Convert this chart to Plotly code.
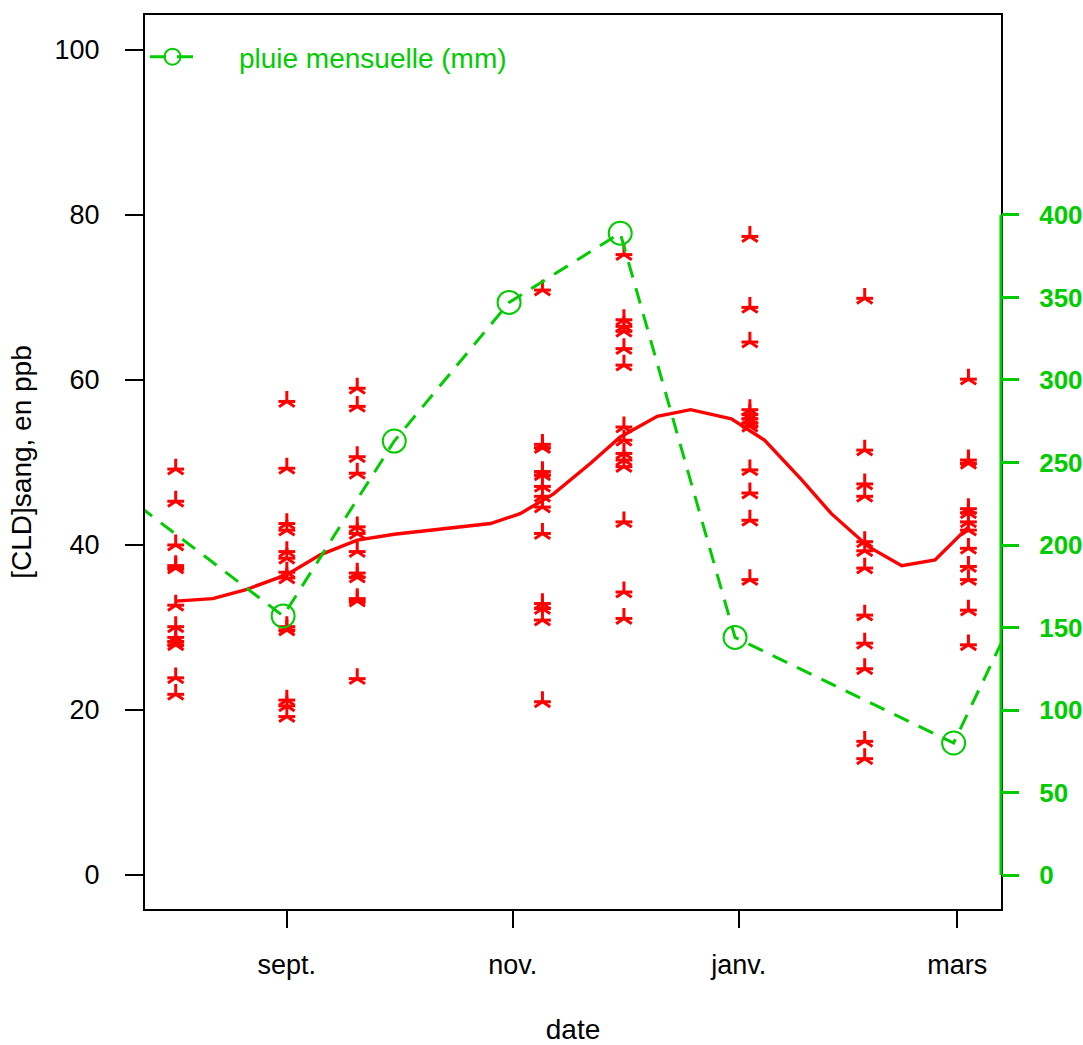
import plotly.graph_objects as go

# ---------------- data ----------------
# blood CLD measurements (ppb) per sampling date
sample_dates = ['2010-08-02', '2010-09-01', '2010-09-20', '2010-11-09',
                '2010-12-01', '2011-01-04', '2011-02-04', '2011-03-04']
cld_aug02 = [49.2, 45.3, 40.0, 37.5, 37.2, 32.7, 30.1, 28.8, 28.3, 27.9, 23.9, 21.9]
cld_sep01 = [57.4, 49.3, 42.6, 41.8, 39.2, 38.4, 36.7, 36.0, 30.1, 29.7, 21.2, 20.5, 19.2]
cld_sep20 = [59.0, 56.8, 50.7, 48.7, 42.2, 41.4, 39.2, 36.6, 36.1, 33.5, 33.2, 23.8]
cld_nov09 = [70.9, 52.2, 51.8, 48.9, 48.5, 47.1, 45.9, 44.6, 41.4, 32.9, 32.3, 30.9, 21.0]
cld_dec01 = [75.2, 67.3, 66.5, 65.9, 63.8, 61.8, 54.3, 52.7, 51.1, 50.3, 49.5, 42.8, 34.3, 31.1]
cld_jan04 = [77.4, 68.8, 64.6, 56.4, 55.8, 55.3, 54.8, 54.4, 49.1, 46.3, 43.0, 35.8]
cld_feb04 = [69.9, 51.5, 47.4, 45.9, 40.4, 39.3, 37.2, 31.5, 28.1, 25.0, 16.2, 14.1]
cld_mar04 = [60.1, 50.3, 49.9, 44.4, 43.9, 42.8, 41.8, 39.6, 37.4, 35.8, 32.1, 27.9]

# smoothed trend (ppb)
smooth_dates = ['2010-08-02', '2010-08-12', '2010-08-21', '2010-09-01', '2010-09-10',
                '2010-09-20', '2010-09-30', '2010-10-26', '2010-11-03', '2010-11-12',
                '2010-11-22', '2010-11-30', '2010-12-10', '2010-12-19', '2010-12-30',
                '2011-01-08', '2011-01-18', '2011-01-26', '2011-02-05', '2011-02-14',
                '2011-02-23', '2011-03-04']
smooth_vals = [33.2, 33.5, 34.6, 36.4, 38.8, 40.6, 41.3, 42.6, 43.8, 46.2, 49.9,
               53.1, 55.6, 56.4, 55.3, 52.7, 47.9, 43.8, 39.8, 37.5, 38.2, 42.2]

# monthly rainfall (mm)
rain_dates = ['2010-06-30', '2010-08-31', '2010-09-30', '2010-10-31',
              '2010-11-30', '2010-12-31', '2011-02-28', '2011-03-31']
rain_vals = [263, 157, 263, 347, 389, 144, 80, 226]

# axes
month_ticks = ['2010-09-01', '2010-11-01', '2011-01-01', '2011-03-01']
month_labels = ['sept.', 'nov.', 'janv.', 'mars']
cld_ticks = [0, 20, 40, 60, 80, 100]
rain_ticks = [0, 50, 100, 150, 200, 250, 300, 350, 400]

RED = '#FF0000'
GREEN = '#00CC00'
FONT = 'Liberation Sans'

cld_groups = [cld_aug02, cld_sep01, cld_sep20, cld_nov09,
              cld_dec01, cld_jan04, cld_feb04, cld_mar04]
pts_x, pts_y = [], []
for d, vals in zip(sample_dates, cld_groups):
    pts_x += [d] * len(vals)
    pts_y += vals

fig = go.Figure()

fig.add_trace(go.Scatter(x=smooth_dates, y=smooth_vals, mode='lines',
                         line=dict(color=RED, width=3.4), showlegend=False,
                         hoverinfo='skip'))
# asterisk built from two stroke symbols
fig.add_trace(go.Scatter(x=pts_x, y=pts_y, mode='markers', showlegend=False,
                         marker=dict(symbol='y-up-open', size=13, color=RED,
                                     line=dict(color=RED, width=3))))
fig.add_trace(go.Scatter(x=pts_x, y=pts_y, mode='markers', showlegend=False,
                         marker=dict(symbol='line-ew-open', size=12, color=RED,
                                     line=dict(color=RED, width=3))))

fig.add_trace(go.Scatter(x=rain_dates, y=rain_vals, mode='lines+markers',
                         yaxis='y2',
                         name='\u00a0\u00a0\u00a0\u00a0\u00a0pluie mensuelle (mm)',
                         line=dict(color=GREEN, width=3, dash='16px,11px'),
                         marker=dict(symbol='circle-open', size=23, color=GREEN,
                                     line=dict(color=GREEN, width=2))))

fig.update_layout(
    template='none',
    width=1083, height=1045,
    margin=dict(l=145, r=82, t=15, b=136, autoexpand=False),
    plot_bgcolor='white', paper_bgcolor='white',
    font=dict(family=FONT, size=27, color='black'),
    showlegend=True,
    legend=dict(x=0.0, y=0.953, xanchor='left', yanchor='middle',
                bgcolor='rgba(0,0,0,0)', borderwidth=0,
                font=dict(family=FONT, size=28, color=GREEN),
                itemwidth=45),
    xaxis=dict(type='date', range=['2010-07-24 17:00', '2011-03-12 19:00'],
               automargin=False,
               tickmode='array', tickvals=month_ticks, ticktext=month_labels,
               ticks='outside', ticklen=17, tickwidth=1.5, tickcolor='black',
               ticklabelstandoff=14,
               showline=True, linewidth=2, linecolor='black', mirror=True,
               showgrid=False, zeroline=False,
               title=dict(text='date', standoff=44, font=dict(size=28))),
    yaxis=dict(range=[-4.12, 104.24], tickmode='array', tickvals=cld_ticks,
               automargin=False,
               ticks='outside', ticklen=18, tickwidth=1.5, tickcolor='black',
               ticklabelstandoff=20,
               showline=True, linewidth=2, linecolor='black', mirror=True,
               showgrid=False, zeroline=False,
               title=dict(text='[CLD]sang, en ppb', standoff=15, font=dict(size=28))),
    yaxis2=dict(overlaying='y', side='right', anchor='x', automargin=False,
                range=[-20.6, 521.2], tickmode='array', tickvals=rain_ticks,
                ticks='outside', ticklen=17, tickwidth=3, tickcolor=GREEN,
                ticklabelstandoff=15,
                tickfont=dict(family=FONT, size=26, color=GREEN, weight='bold'),
                showline=False, showgrid=False, zeroline=False),
)

# green right-axis line spanning the rain tick range
fig.add_shape(type='line', xref='paper', yref='y2', x0=1, x1=1,
              y0=min(rain_ticks), y1=max(rain_ticks),
              line=dict(color=GREEN, width=3), layer='above')

fig.write_html("out.html", config={'displayModeBar': False},
               post_script="document.body.style.margin='0';")
